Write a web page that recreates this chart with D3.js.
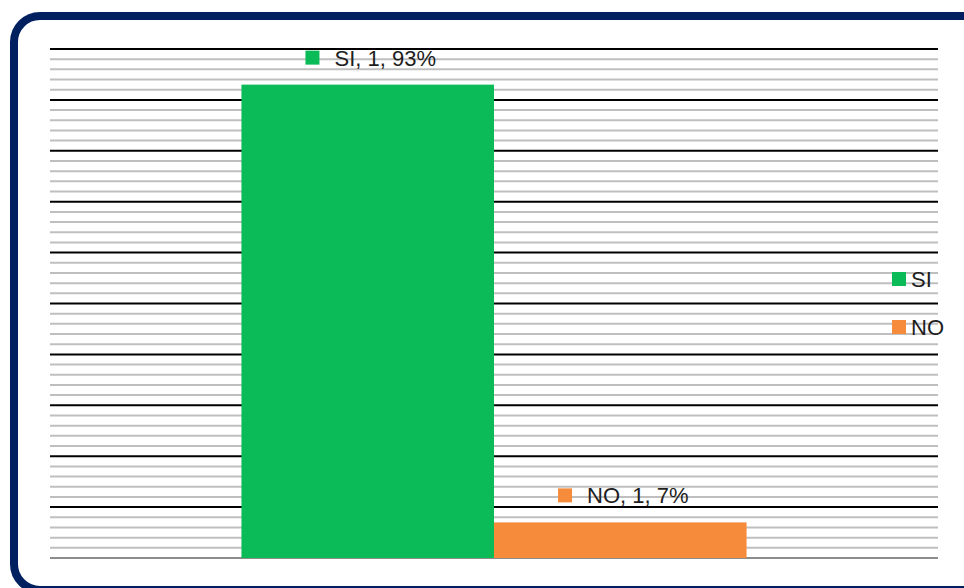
<!DOCTYPE html>
<html>
<head>
<meta charset="utf-8">
<script src="https://cdn.jsdelivr.net/npm/d3@7"></script>
<style>
  html, body { margin: 0; padding: 0; background: #fff; overflow: hidden; }
  text { font-family: "Liberation Sans", Arial, sans-serif; fill: #1e1e1e; }
</style>
</head>
<body>
<svg id="chart" width="964" height="588"></svg>
<script>
(function () {
    'use strict';

    var categories = ["1"];
    var seriesNames = ["SI", "NO"];
    var seriesValues = [0.93, 0.07];
    var seriesColors = ["#0bbb57", "#f58b3b"];
    var majorTicks = d3.range(0, 1.0001, 0.1);
    var minorTicks = d3.range(0, 1.0001, 0.02);

    var svg = d3.select("#chart");
    var left = 50, right = 938, top = 49, bottom = 558;

    // frame (runs off the right and bottom edges)
    svg.append("rect")
        .attr("x", 14).attr("y", 16)
        .attr("width", 980).attr("height", 574)
        .attr("rx", 26).attr("ry", 26)
        .attr("fill", "#fff")
        .attr("stroke", "#002060")
        .attr("stroke-width", 8);

    var y = d3.scaleLinear().domain([0, 1]).range([bottom, top]);
    var x0 = d3.scaleBand().domain(categories).range([left, right])
        .paddingInner(0).paddingOuter(0.379);
    var x1 = d3.scaleBand().domain(seriesNames).range([0, x0.bandwidth()]);

    // minor grid
    svg.append("g").selectAll("line")
        .data(minorTicks.filter(function (d, i) { return i % 5 !== 0; }))
        .enter().append("line")
        .attr("x1", left).attr("x2", right)
        .attr("y1", function (d) { return y(d); })
        .attr("y2", function (d) { return y(d); })
        .attr("stroke", "#bfbfbf").attr("stroke-width", 2);

    // major grid
    svg.append("g").selectAll("line")
        .data(majorTicks.slice(1))
        .enter().append("line")
        .attr("x1", left).attr("x2", right)
        .attr("y1", function (d) { return y(d); })
        .attr("y2", function (d) { return y(d); })
        .attr("stroke", "#000").attr("stroke-width", 2);

    // baseline
    svg.append("line")
        .attr("x1", left).attr("x2", right)
        .attr("y1", y(0)).attr("y2", y(0))
        .attr("stroke", "#8c8c8c").attr("stroke-width", 2);

    var bars = seriesNames.map(function (s, i) {
        return { name: s, value: seriesValues[i], color: seriesColors[i], cat: categories[0] };
    });

    svg.append("g").selectAll("rect")
        .data(bars)
        .enter().append("rect")
        .attr("x", function (d) { return x0(d.cat) + x1(d.name); })
        .attr("y", function (d) { return y(d.value); })
        .attr("width", x1.bandwidth())
        .attr("height", function (d) { return y(0) - y(d.value); })
        .attr("fill", function (d) { return d.color; });

    // data labels: key square + "serie, categoria, valore"
    bars.forEach(function (d) {
        var g = svg.append("g");
        var t = g.append("text")
            .attr("font-size", 22)
            .text(d.name + ", " + d.cat + ", " + Math.round(d.value * 100) + "%");
        var tw = t.node().getComputedTextLength();
        var total = 29 + tw;
        var cx = x0(d.cat) + x1(d.name) + x1.bandwidth() / 2 + 3;
        var sx = cx - total / 2;
        var barTop = y(d.value);
        g.append("rect")
            .attr("x", sx).attr("y", barTop - 34)
            .attr("width", 14).attr("height", 14)
            .attr("fill", d.color);
        t.attr("x", sx + 29).attr("y", barTop - 19);
    });

    // legend
    var legend = svg.append("g").selectAll("g")
        .data(bars)
        .enter().append("g")
        .attr("transform", function (d, i) { return "translate(892," + (272 + i * 48) + ")"; });
    legend.append("rect")
        .attr("width", 14).attr("height", 14)
        .attr("fill", function (d) { return d.color; });
    legend.append("text")
        .attr("x", 19).attr("y", 15)
        .attr("font-size", 22)
        .text(function (d) { return d.name; });
}());
</script>
</body>
</html>
